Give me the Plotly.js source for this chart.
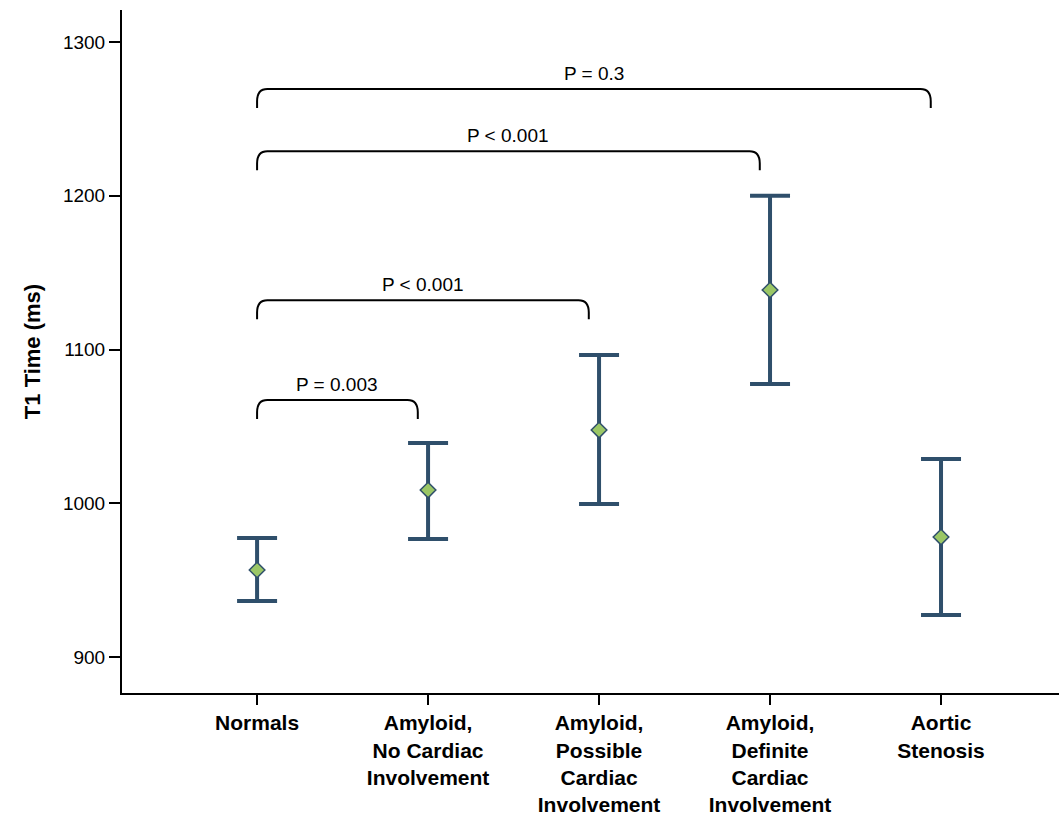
<!DOCTYPE html>
<html>
<head>
<meta charset="utf-8">
<script src="https://cdn.plot.ly/plotly-3.0.1.min.js"></script>
<style>html,body{margin:0;padding:0;background:#fff;}#chart{width:1059px;height:820px;}</style>
</head>
<body>
<div id="chart"></div>
<script>
// Data
const categories = ["Normals", "Amyloid,<br>No Cardiac<br>Involvement", "Amyloid,<br>Possible<br>Cardiac<br>Involvement", "Amyloid,<br>Definite<br>Cardiac<br>Involvement", "Aortic<br>Stenosis"];
const meanT1 = [956.6, 1008.6, 1047.6, 1138.7, 978];
const upperT1 = [977.4, 1039.2, 1096.4, 1200, 1028.8];
const lowerT1 = [936.4, 976.7, 999.5, 1077.6, 927.3];
const yTicks = [900, 1000, 1100, 1200, 1300];

// Significance brackets (category index from, to; bracket level in ms)
const bracketFrom = [0, 0, 0, 0];
const bracketTo = [1, 2, 3, 4];
const bracketLevel = [1067.2, 1132, 1229, 1269.4];
const bracketLabels = ["P = 0.003", "P < 0.001", "P < 0.001", "P = 0.3"];

const xIdx = categories.map((c, i) => i);

const trace = {
  x: xIdx,
  y: meanT1,
  type: "scatter",
  mode: "markers",
  marker: {symbol: "diamond", size: 12, color: "#9bc766", line: {color: "#2f4f6b", width: 1.5}},
  error_y: {
    type: "data", symmetric: false,
    array: upperT1.map((u, i) => u - meanT1[i]),
    arrayminus: lowerT1.map((l, i) => meanT1[i] - l),
    color: "#2f4f6b", thickness: 4, width: 20
  },
  hoverinfo: "skip",
  showlegend: false
};

const drop = 12.4;   // bracket leg length in ms
const inset = 0.06;  // right end inset
const rx = 0.06, ry = 8;
const shapes = [], annotations = [];
for (let i = 0; i < bracketLabels.length; i++) {
  const a = bracketFrom[i], b = bracketTo[i] - inset, t = bracketLevel[i];
  const path = `M ${a},${t - drop} L ${a},${t - ry} Q ${a},${t} ${a + rx},${t} L ${b - rx},${t} Q ${b},${t} ${b},${t - ry} L ${b},${t - drop}`;
  shapes.push({type: "path", xref: "x", yref: "y", path: path, line: {color: "#000", width: 2}});
  annotations.push({x: (a + b) / 2, y: t, xref: "x", yref: "y", text: bracketLabels[i], showarrow: false,
    yanchor: "bottom", yshift: 3, font: {family: "Liberation Sans, Arial, sans-serif", size: 19, color: "#000"}});
}

const layout = {
  width: 1059, height: 820,
  margin: {l: 122, r: 0, t: 10, b: 127},
  paper_bgcolor: "#fff", plot_bgcolor: "#fff",
  font: {family: "Liberation Sans, Arial, sans-serif", color: "#000"},
  xaxis: {
    range: [-0.79, 4.69], tickvals: xIdx, ticktext: categories.map(c => "<b>" + c + "</b>"),
    showgrid: false, zeroline: false, showline: true, linecolor: "#000", linewidth: 2,
    ticks: "outside", ticklen: 10, tickwidth: 2, tickcolor: "#000",
    tickfont: {size: 21, color: "#000"}
  },
  yaxis: {
    range: [876.6, 1320.8], tickvals: yTicks,
    showgrid: false, zeroline: false, showline: true, linecolor: "#000", linewidth: 2,
    ticks: "outside", ticklen: 11, tickwidth: 2, tickcolor: "#000",
    tickfont: {size: 19, color: "#000"},
    title: {text: "<b>T1 Time (ms)</b>", font: {size: 22, color: "#000"}, standoff: 16}
  },
  shapes: shapes,
  annotations: annotations
};

Plotly.newPlot("chart", [trace], layout, {displayModeBar: false, staticPlot: true});
</script>
</body>
</html>
